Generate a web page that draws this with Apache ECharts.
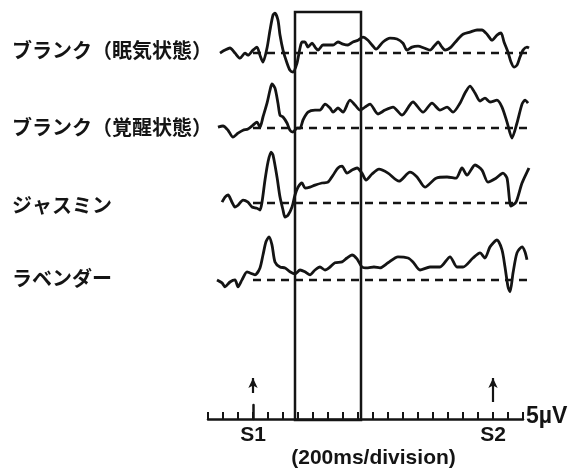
<!DOCTYPE html>
<html><head><meta charset="utf-8">
<script src="https://cdn.jsdelivr.net/npm/echarts@6/dist/echarts.min.js"></script>
<style>html,body{margin:0;padding:0;background:#fff}#c{width:577px;height:470px}</style>
</head><body><div id="c"></div>
<script>
// ---- data (time in ms from S1, amplitude in µV relative to baseline) ----
const conditionNames = ['ブランク（眠気状態）', 'ブランク（覚醒状態）', 'ジャスミン', 'ラベンダー'];

const blankDrowsyT = [-440,-373,-307,-240,-173,-107,-67,0,53,93,133,187,227,267,293,333,360,400,453,493,533,587,627,653,693,733,787,827,867,933,1000,1067,1133,1200,1267,1333,1400,1467,1533,1587,1640,1733,1827,1920,2000,2053,2120,2200,2280,2360,2427,2467,2520,2560,2640,2720,2800,2893,2987,3053,3120,3187,3253,3307,3347,3400,3440,3480,3520,3560,3600,3653,3680];
const blankDrowsyV = [0,1,1.7,0,-1.7,0,-0.7,1,2,-0.7,-3,1.7,7.7,12.7,13.3,11,6,1,-3.3,-5.7,-6.3,-3.3,1.7,3.7,3.7,2,3.3,2,1,2.7,2.7,2.7,3.7,3,2.7,3.7,4.3,5.3,4.3,2.7,1.3,3.7,5,4.7,3.3,1,2,2.3,1.7,1,2.7,3.7,2,1,2,4.3,6.3,7,7.7,7.7,6.3,4.3,6,6.7,3.7,0.3,-3,-4.7,-4,-1.3,1,2,1.7];

const blankAwakeT = [-467,-400,-333,-267,-200,-133,-67,0,53,93,133,187,227,253,293,333,360,400,453,493,533,587,627,667,733,827,893,960,1027,1067,1133,1200,1293,1360,1427,1493,1560,1667,1760,1867,1987,2133,2267,2387,2493,2587,2667,2760,2827,2893,2960,3027,3093,3160,3253,3320,3387,3453,3520,3587,3627,3667];
const blankAwakeV = [0.3,0.7,-0.7,-3,-1.7,-0.7,-0.3,1,2,0.3,3.7,8.3,12.7,14.7,13.3,8.3,4.3,3.7,1.7,-0.7,-1.3,0,0,2.7,5.3,6,6,8,6.7,5.3,6.7,5.3,9.3,7.7,6,7,8,4.7,6,7,4.3,8.7,5.3,8.3,6,7,5.3,8.3,11.7,14,11.7,9,10,8.7,9.3,7,2,-3.3,1.7,8,9.3,8.3];

const jasmineT = [-413,-373,-333,-280,-240,-200,-133,-67,-13,53,93,120,160,200,240,267,320,360,400,427,467,520,560,600,653,693,760,827,920,1000,1067,1133,1187,1253,1320,1387,1453,1507,1587,1680,1800,1947,2093,2187,2293,2440,2587,2707,2787,2853,2960,3053,3133,3240,3333,3387,3440,3507,3587,3680];
const jasmineV = [0.3,2,2.7,0.3,-1.3,-0.7,1,0.3,-1.3,-1.7,-2.3,0.3,7.7,13.7,17,16,8.7,2,-2.3,-4.7,-4,-1.3,2.7,5.3,6.7,5,5.3,6,6.7,7,9.3,11.7,12.3,10,11,11.7,10,7.7,9.7,11.3,10,7.3,10.3,8.7,5.3,8.3,8.7,8.3,11.7,9.3,12.7,11,7,8.3,10,8.3,-1,0.3,6.7,11.7];

const lavenderT = [-480,-413,-373,-307,-240,-200,-147,-80,-40,27,93,133,173,213,253,293,360,427,493,560,627,693,760,827,893,960,1027,1093,1187,1253,1320,1387,1453,1533,1613,1693,1800,1933,2067,2133,2227,2360,2493,2627,2720,2800,2933,3027,3093,3160,3253,3320,3360,3400,3427,3467,3520,3587,3627,3653];
const lavenderV = [0,-1,-2.3,-0.7,0,-2.3,0,2.7,2.3,1.7,4,8.3,12.7,14.3,11.7,6,4.3,4,2.7,2,3.3,2.7,1.7,3.3,4.3,3.3,4.3,5.7,6,7.3,8.3,7,4.3,4,4.3,4,5.7,7.7,7.3,6,3.3,4.3,4.3,7.7,4.3,4.3,7.3,9,7.3,11,13.3,10,4.3,-2.3,-4,2.3,9,11,9.3,6.7];

const stimulusNames = ['S1', 'S2'];
const stimulusTimes = [0, 3200];
const windowTimes = [560, 1440];
const baselineEndTime = 3700;
const divisionMs = 200;
const scaleMin = -600, scaleMax = 3600;
const scaleBarUV = 5;
const scaleBarLabel = '5µV';
const divisionLabel = '(200ms/division)';

// ---- layout / style ----
const traceT = [blankDrowsyT, blankAwakeT, jasmineT, lavenderT];
const traceV = [blankDrowsyV, blankAwakeV, jasmineV, lavenderV];
const stackOffsets = [122.3, 97.3, 72.3, 46.7];
const labelY = [50, 127, 205, 278];
const arrowSpans = [[9, 14], [6, 14]];
const INK = '#141414';
const LATIN = '"Liberation Sans", Arial, sans-serif';

const series = traceT.map((T, k) => ({
  type: 'line', xAxisIndex: 0, yAxisIndex: 0,
  data: T.map((t, i) => [t, traceV[k][i] + stackOffsets[k]]),
  showSymbol: false, smooth: 0.25, silent: true,
  lineStyle: { color: INK, width: 2.8 },
  markLine: {
    silent: true, symbol: 'none', animation: false,
    label: { show: false },
    lineStyle: { color: INK, width: 2.4, type: [8, 6] },
    data: [[{ coord: [0, stackOffsets[k]] }, { coord: [baselineEndTime, stackOffsets[k]] }]]
  }
}));

// stimulus arrows + analysis window
series.push({
  type: 'line', xAxisIndex: 0, yAxisIndex: 0, data: [], silent: true,
  markLine: {
    silent: true, animation: false, symbol: ['none', 'arrow'], symbolSize: [7, 10],
    label: { show: false },
    lineStyle: { color: INK, width: 2.2, type: 'solid' },
    data: stimulusTimes.map((t, i) => [{ coord: [t, arrowSpans[i][0]] }, { coord: [t, arrowSpans[i][1]] }])
  },
  markArea: {
    silent: true, animation: false,
    itemStyle: { color: 'rgba(0,0,0,0)', borderColor: INK, borderWidth: 2.5 },
    data: [[{ coord: [windowTimes[0], 0] }, { coord: [windowTimes[1], 136] }]]
  }
});

const chart = echarts.init(document.getElementById('c'), null, { renderer: 'canvas' });
chart.setOption({
  animation: false,
  backgroundColor: '#fff',
  grid: [
    { left: 208, width: 330, top: 12, height: 408 },
    { left: 208, width: 315, top: 405, height: 15 }
  ],
  xAxis: [
    { gridIndex: 0, type: 'value', min: -600, max: 3800, show: false },
    {
      gridIndex: 1, type: 'value', min: scaleMin, max: scaleMax, interval: divisionMs,
      axisLine: { show: true, lineStyle: { color: INK, width: 2.5 } },
      axisTick: { show: true, inside: true, length: 7, lineStyle: { color: INK, width: 2 } },
      splitLine: { show: false },
      axisLabel: {
        margin: 6, color: INK, fontSize: 21, fontWeight: 'bold', fontFamily: LATIN,
        formatter: v => { const i = stimulusTimes.indexOf(v); return i >= 0 ? stimulusNames[i] : ''; }
      },
      name: divisionLabel, nameLocation: 'middle', nameGap: 29,
      nameTextStyle: { color: INK, fontSize: 21, fontWeight: 'bold', fontFamily: LATIN, padding: [0, 0, 0, 16] }
    }
  ],
  yAxis: [
    { gridIndex: 0, type: 'value', min: 0, max: 136, show: false },
    {
      gridIndex: 1, type: 'value', min: 0, max: scaleBarUV, position: 'right',
      axisLine: { show: true, lineStyle: { color: INK, width: 2.5 } },
      axisTick: { show: false }, axisLabel: { show: false }, splitLine: { show: false }
    }
  ],
  graphic: conditionNames.map((n, i) => ({
    type: 'text', x: 12, y: labelY[i], silent: true,
    style: { text: n, fill: INK, fontSize: 20, fontWeight: 'bold', fontFamily: '"Noto Sans CJK JP", sans-serif', verticalAlign: 'middle' }
  })).concat([{
    type: 'text', x: 526, y: 417, silent: true,
    style: { text: scaleBarLabel, fill: INK, fontSize: 23, fontWeight: 'bold', fontFamily: LATIN, verticalAlign: 'middle' }
  }]),
  series
});
</script></body></html>
